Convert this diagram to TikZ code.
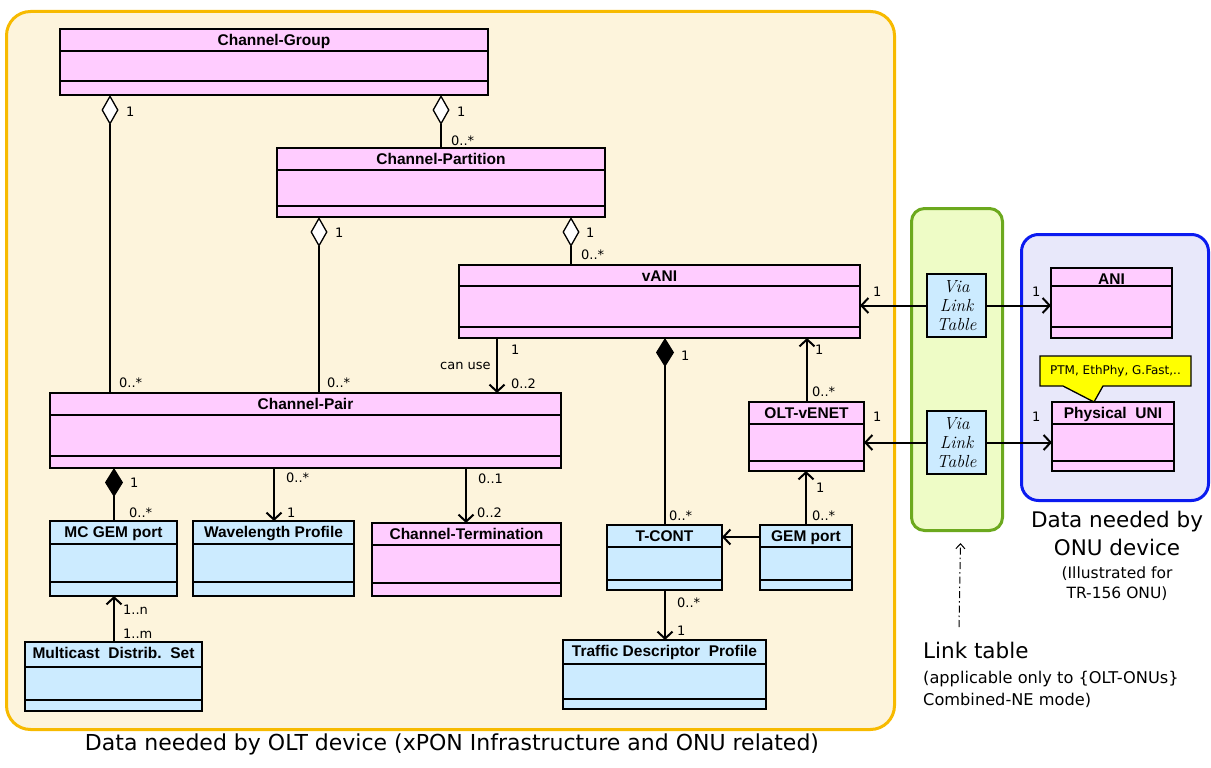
\documentclass[tikz,border=0pt]{standalone}
\usepackage{fontspec}
\usetikzlibrary{arrows.meta}
\newfontfamily\lsans{Liberation Sans}
\newfontfamily\dvs{DejaVu Sans}
\definecolor{pinkc}{HTML}{FFCCFF}
\definecolor{bluec}{HTML}{CCEBFF}
\definecolor{oltfill}{HTML}{FDF4DC}
\definecolor{oltdraw}{HTML}{F7BA00}
\definecolor{grfill}{HTML}{EEFCC6}
\definecolor{grdraw}{HTML}{6CA91E}
\definecolor{onufill}{HTML}{E8E8FA}
\definecolor{onudraw}{HTML}{0B1BF0}
\definecolor{callc}{HTML}{FFFF00}
\tikzset{
  clsbox/.style={draw=black, line width=1.3pt, inner sep=0pt, outer sep=0pt},
  clsline/.style={draw=black, line width=1.3pt},
  clstitle/.style={font=\lsans\bfseries\fontsize{15.5}{18}\selectfont, inner sep=0pt, anchor=base},
  mult/.style={font=\dvs\fontsize{13}{15}\selectfont, anchor=base west, inner sep=0pt},
  agg/.style={draw=black, line width=1.3pt, {Diamond[fill=white,length=30pt,width=17pt,line width=1.3pt]}-},
  comp/.style={draw=black, line width=1.3pt, {Diamond[fill=black,length=29pt,width=18pt]}-},
  assoc/.style={draw=black, line width=2pt, -{Straight Barb[length=7pt,width=15pt,line width=2pt]}},
  vlt/.style={draw=black, line width=1.3pt, fill=bluec, minimum width=59pt, minimum height=63pt, inner sep=0pt, align=center, font=\fontsize{17.5}{19}\selectfont\itshape},
  bigtxt/.style={font=\dvs\fontsize{21.5}{25}\selectfont, inner sep=0pt, anchor=base},
  smalltxt/.style={font=\dvs\fontsize{15.5}{18}\selectfont, inner sep=0pt, anchor=base},
}
\newcommand{\umlclass}[9]{%
  \node[clsbox, fill=#8, minimum width={(#4-#2)*1pt}, minimum height={(#5-#3)*1pt}, anchor=north west] (#1) at (#2,#3) {};
  \draw[clsline] (#2,#6) -- (#4,#6) (#2,#7) -- (#4,#7);
  \node[clstitle] (#1t) at ({(#2+#4)/2},{#3+16.5}) {#9};
}
\begin{document}
\begin{tikzpicture}[x=1pt,y=-1pt]
\useasboundingbox (0,0) rectangle (1211,768);
% frames
\node[draw=oltdraw, fill=oltfill, line width=3pt, rounded corners=24pt, minimum width=888pt, minimum height=718pt, anchor=north west, inner sep=0pt] (oltframe) at (5,10) {};
\node[draw=grdraw, fill=grfill, line width=3pt, rounded corners=13pt, minimum width=91pt, minimum height=322pt, anchor=north west, inner sep=0pt] (gframe) at (910,207) {};
\node[draw=onudraw, fill=onufill, line width=3pt, rounded corners=17pt, minimum width=187pt, minimum height=266pt, anchor=north west, inner sep=0pt] (onuframe) at (1020,233) {};
% classes
\umlclass{cg}{60}{29}{488}{95}{51}{81}{pinkc}{Channel-Group}
\umlclass{cpart}{277}{148}{605}{217}{170}{206}{pinkc}{Channel-Partition}
\umlclass{vani}{459}{265}{860}{338}{286}{327}{pinkc}{vANI}
\umlclass{cp}{50}{393}{561}{468}{415}{456}{pinkc}{Channel-Pair}
\umlclass{ov}{749}{402}{864}{471}{424}{461}{pinkc}{OLT-vENET}
\umlclass{mcg}{50}{521}{177}{596}{544}{582}{bluec}{MC GEM port}
\umlclass{wl}{193}{521}{354}{596}{544}{582}{bluec}{Wavelength Profile}
\umlclass{ct}{372}{523}{561}{596}{545}{583}{pinkc}{Channel-Termination}
\umlclass{tcont}{607}{525}{722}{590}{547}{580}{bluec}{T-CONT}
\umlclass{gem}{760}{525}{852}{590}{547}{580}{bluec}{GEM port}
\umlclass{mds}{25}{642}{202}{711}{667}{700}{bluec}{Multicast\ \ Distrib.\ \ Set}
\umlclass{tdp}{563}{640}{766}{709}{664}{699}{bluec}{Traffic Descriptor\ \ Profile}
\umlclass{ani}{1051}{268}{1172}{338}{286}{327}{pinkc}{ANI}
\umlclass{puni}{1052}{402}{1174}{471}{424}{461}{pinkc}{Physical\ \ UNI}
% via link table
\node[vlt] (vlt1) at (956.5,305.5) {Via\\Link\\Table};
\node[vlt] (vlt2) at (956.5,442.5) {Via\\Link\\Table};
% callout
\draw[line width=1.3pt, fill=callc] (1040,356) -- (1191,356) -- (1191,386) -- (1103,386) -- (1094,402) -- (1063,386) -- (1040,386) -- cycle;
\node[font=\dvs\fontsize{12}{14}\selectfont, inner sep=0pt] (callt) at (1115.5,371) {PTM, EthPhy, G.Fast,..};
% connectors
\draw[agg] ([xshift=50pt]cg.south west) -- ([xshift=60pt]cp.north west);
\draw[agg] ([xshift=381pt]cg.south west) -- ([xshift=164pt]cpart.north west);
\draw[agg] ([xshift=42pt]cpart.south west) -- ([xshift=269pt]cp.north west);
\draw[agg] ([xshift=294pt]cpart.south west) -- ([xshift=112pt]vani.north west);
\draw[assoc] ([xshift=38pt]vani.south west) -- ([xshift=447pt]cp.north west);
\draw[comp] ([xshift=206pt]vani.south west) -- ([xshift=58pt]tcont.north west);
\draw[assoc] ([xshift=58pt]ov.north west) -- ([xshift=348pt]vani.south west);
\draw[assoc] ([xshift=46pt]gem.north west) -- ([xshift=57pt]ov.south west);
\draw[assoc] ([yshift=-12pt]gem.north west) -- ([yshift=-12pt]tcont.north east);
\draw[assoc] ([xshift=58pt]tcont.south west) -- ([xshift=102pt]tdp.north west);
\draw[comp] ([xshift=64pt]cp.south west) -- ([xshift=64pt]mcg.north west);
\draw[assoc] ([xshift=224pt]cp.south west) -- ([xshift=81pt]wl.north west);
\draw[assoc] ([xshift=416pt]cp.south west) -- ([xshift=94pt]ct.north west);
\draw[assoc] ([xshift=89pt]mds.north west) -- ([xshift=64pt]mcg.south west);
\draw[assoc] (vlt1.west) -- (vlt1.west -| vani.east);
\draw[assoc] (vlt1.east) -- (vlt1.east -| ani.west);
\draw[assoc] (vlt2.west) -- (vlt2.west -| ov.east);
\draw[assoc] (vlt2.east) -- (vlt2.east -| puni.west);
\coordinate (ltend) at (959,627);
\draw[line width=1pt, dash pattern=on 7pt off 3pt on 1.5pt off 3pt, -{Straight Barb[length=5pt,width=9pt,line width=1pt]}] (ltend) -- ([xshift=3.5pt,yshift=-11pt]gframe.south);
% multiplicities
\node[mult] (m1) at (126,117) {1};
\node[mult] (m2) at (457,117) {1};
\node[mult] (m3) at (451,145) {0..*};
\node[mult] (m4) at (335,237) {1};
\node[mult] (m5) at (586,237) {1};
\node[mult] (m6) at (581,259) {0..*};
\node[mult] (m7) at (119,387) {0..*};
\node[mult] (m8) at (327,387) {0..*};
\node[mult] (m9) at (511,354) {1};
\node[mult] (m10) at (440,369) {can use};
\node[mult] (m11) at (511,388) {0..2};
\node[mult] (m12) at (681,360) {1};
\node[mult] (m13) at (815,354) {1};
\node[mult] (m14) at (812,396) {0..*};
\node[mult] (m15) at (873,421) {1};
\node[mult] (m16) at (873,296) {1};
\node[mult] (m17) at (478,483) {0..1};
\node[mult] (m18) at (477,517) {0..2};
\node[mult] (m19) at (669,520) {0..*};
\node[mult] (m20) at (816,492) {1};
\node[mult] (m21) at (812,520) {0..*};
\node[mult] (m22) at (130,487) {1};
\node[mult] (m23) at (129,517) {0..*};
\node[mult] (m24) at (286,482) {0..*};
\node[mult] (m25) at (287,517) {1};
\node[mult] (m26) at (123,614) {1..n};
\node[mult] (m27) at (123,638) {1..m};
\node[mult] (m28) at (677,607) {0..*};
\node[mult] (m29) at (677,635) {1};
\node[mult] (m30) at (1032,296) {1};
\node[mult] (m31) at (1032,421) {1};
% texts
\node[bigtxt, font=\dvs\fontsize{22}{26}\selectfont] (t1) at (452,750) {Data needed by OLT device (xPON Infrastructure and ONU related)};
\node[bigtxt] (t2) at (1117,527) {Data needed by};
\node[bigtxt] (t3) at (1117,555) {ONU device};
\node[smalltxt] (t4) at (1117,578) {(Illustrated for};
\node[smalltxt] (t5) at (1117,598) {TR-156 ONU)};
\node[bigtxt, anchor=base west] (t6) at (923,658) {Link table};
\node[smalltxt, font=\dvs\fontsize{16.2}{18}\selectfont, anchor=base west] (t7) at (923,683) {(applicable only to \{OLT-ONUs\}};
\node[smalltxt, font=\dvs\fontsize{16.2}{18}\selectfont, anchor=base west] (t8) at (923,705) {Combined-NE mode)};
\end{tikzpicture}
\end{document}
